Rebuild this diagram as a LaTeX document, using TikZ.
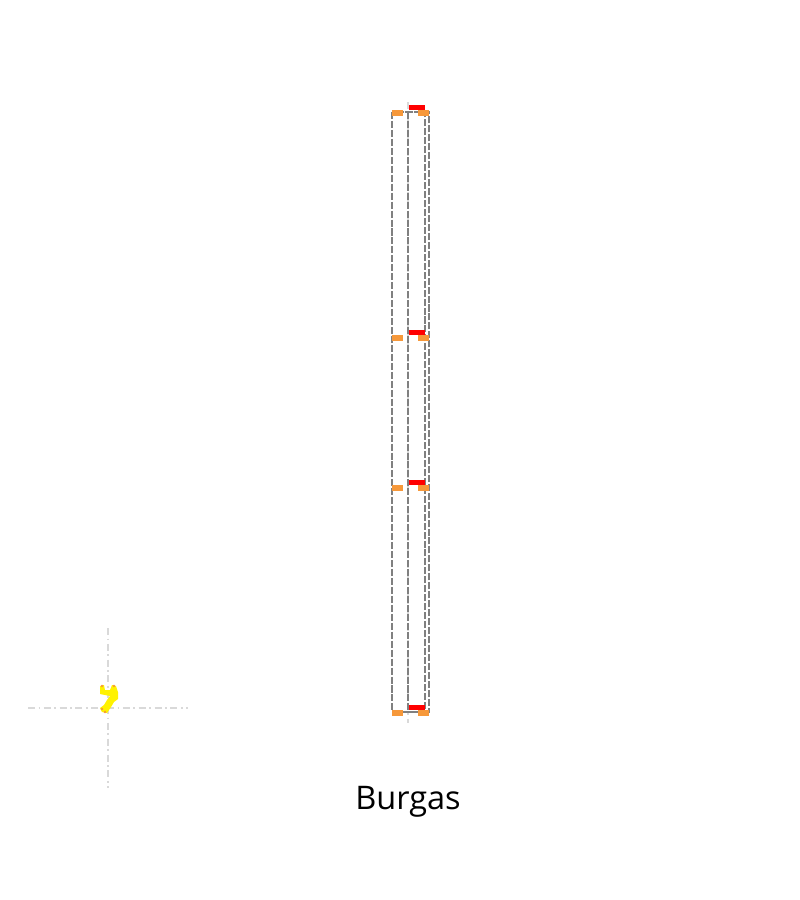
\documentclass[tikz,border=0pt]{standalone}
\usepackage{fontspec}
\setmainfont{Open Sans}
\usepackage{tikz}
\usetikzlibrary{positioning}

\definecolor{stoporange}{RGB}{246,152,58}

\begin{document}
\begin{tikzpicture}[
  x=0.02cm, y=-0.02cm,
  track/.style={draw=black!50, line width=0.6pt, dash pattern=on 4pt off 1.1pt},
  axisline/.style={draw=black!15, line width=0.8pt, dash pattern=on 4pt off 2pt on 1pt off 2pt},
  stopmark/.style={fill=stoporange, draw=none},
  platform/.style={fill=red, draw=none},
  townlabel/.style={font=\fontsize{18.5}{22}\selectfont, text=black}
]
  \useasboundingbox (0,0) rectangle (800,900);

  % locator cross and town shape
  \draw[axisline] (28,708) -- (188,708);
  \draw[axisline] (108,628) -- (108,788);
  \fill[yellow] (100,686) -- (104,685) -- (105,690) -- (110,690) -- (112,685) -- (116,686)
    -- (118,692) -- (118,699) -- (114,702) -- (111,707) -- (107,713) -- (102,712)
    -- (100,708) -- (104,705) -- (107,700) -- (110,696) -- (100,694) -- cycle;
  \foreach \px/\py in {102/686, 114/686, 102/709, 105/712}
    \fill[stoporange] (\px,\py) circle (1.4);

  % centre line
  \draw[axisline] (408,102) -- (408,723);

  % tracks
  \draw[track] (392,112) rectangle (425,712);
  \draw[track] (408,112) rectangle (429,712);

  % stops
  \foreach \ly in {112,337,487,712} {
    \fill[stopmark] (392,\ly-2) rectangle (403,\ly+3.5);
    \fill[stopmark] (418,\ly-2) rectangle (429,\ly+3.5);
    \fill[platform] (409,\ly-7) rectangle (425,\ly-2);
  }

  \node[townlabel] (town) at (408,802) {Burgas};
\end{tikzpicture}
\end{document}
